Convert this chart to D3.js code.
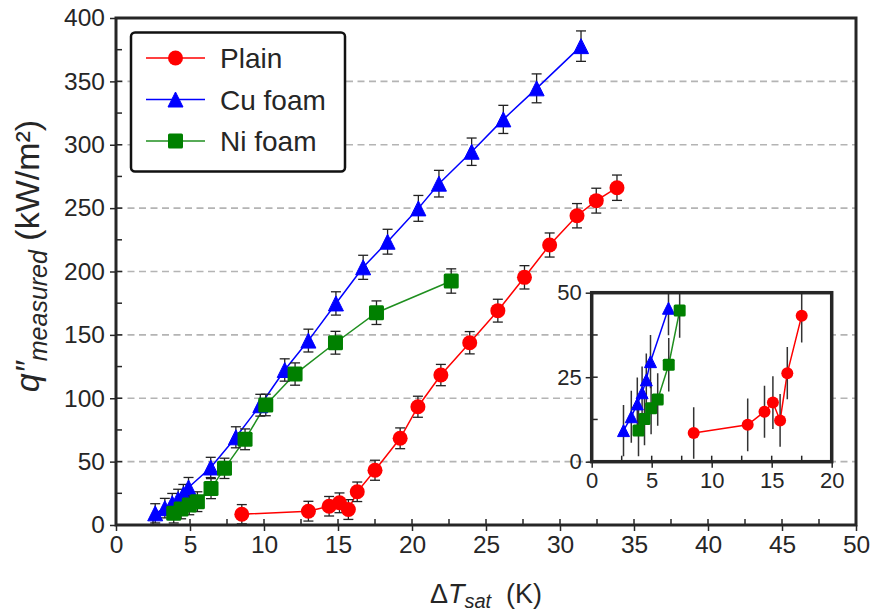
<!DOCTYPE html>
<html><head><meta charset="utf-8">
<script src="https://cdn.jsdelivr.net/npm/d3@7"></script>
<style>
body{margin:0;background:#fff;}
svg{display:block;font-family:"Liberation Sans",Arial,sans-serif;}
</style></head>
<body><svg id="chart" width="878" height="612"></svg>
<script>
// ---------- data ----------
const seriesNames = ["Plain", "Cu foam", "Ni foam"];
const plainX = [8.5, 13.0, 14.4, 15.1, 15.7, 16.3, 17.5, 19.2, 20.4, 21.95, 23.9, 25.8, 27.6, 29.3, 31.15, 32.45, 33.85];
const plainY = [8.5, 10.9, 14.8, 17.5, 12.2, 26.2, 43.2, 68.4, 93.3, 118.3, 143.8, 169.1, 195.4, 220.9, 244.0, 255.9, 266.1];
const plainErr = [7.6, 7.8, 7.7, 7.8, 7.8, 7.7, 7.9, 8.2, 8.3, 8.4, 8.8, 9.0, 9.2, 9.5, 9.6, 9.8, 10.0];
const cuX = [2.65, 3.3, 3.8, 4.2, 4.55, 4.9, 6.4, 8.1, 9.75, 11.4, 13.0, 14.86, 16.7, 18.35, 20.43, 21.82, 24.03, 26.17, 28.42, 31.42];
const cuY = [9.2, 13.3, 17.1, 20.4, 24.2, 29.6, 45.4, 69.2, 94.5, 122.3, 145.5, 174.8, 203.3, 223.5, 249.8, 269.3, 294.5, 320.0, 344.5, 377.8];
const cuErr = [7.6, 7.7, 7.8, 7.8, 7.8, 7.9, 8.0, 8.3, 8.6, 8.8, 9.0, 9.2, 9.5, 9.8, 10.2, 10.5, 10.8, 11.1, 11.4, 12.0];
const niX = [3.9, 4.4, 4.95, 5.5, 6.42, 7.33, 8.72, 10.12, 12.1, 14.83, 17.6, 22.65];
const niY = [9.2, 12.6, 15.8, 18.4, 28.7, 44.7, 67.6, 94.7, 119.1, 143.8, 167.5, 192.5];
const niErr = [7.6, 7.7, 7.7, 7.8, 7.9, 8.0, 8.2, 8.5, 8.8, 9.0, 9.3, 9.6];
const xTicks = [0, 5, 10, 15, 20, 25, 30, 35, 40, 45, 50];
const yTicks = [0, 50, 100, 150, 200, 250, 300, 350, 400];
const insetXTicks = [0, 5, 10, 15, 20];
const insetYTicks = [0, 25, 50];

const colors = ["#ff0000", "#0000ff", "#008000"];
const lineColors = ["#ff0000", "#0000ff", "#1f8f1f"];
const shapes = ["circle", "triangle", "square"];

const series = [
  {name: seriesNames[0], x: plainX, y: plainY, e: plainErr},
  {name: seriesNames[1], x: cuX, y: cuY, e: cuErr},
  {name: seriesNames[2], x: niX, y: niY, e: niErr}
].map((s, i) => ({...s, color: colors[i], lc: lineColors[i], shape: shapes[i],
  pts: s.x.map((v, j) => ({x: v, y: s.y[j], e: s.e[j]}))}));

const svg = d3.select("#chart");
const frameColor = "#262626";

function marker(g, shape, cx, cy, size, color) {
  if (shape === "circle") {
    g.append("circle").attr("cx", cx).attr("cy", cy).attr("r", size / 2).attr("fill", color);
  } else if (shape === "triangle") {
    const h = size, w = size;
    g.append("path").attr("d", `M${cx},${cy - h/2}L${cx + w/2},${cy + h/2}L${cx - w/2},${cy + h/2}Z`)
      .attr("fill", color).attr("stroke", color).attr("stroke-width", 1).attr("stroke-linejoin", "round");
  } else {
    g.append("rect").attr("x", cx - size/2).attr("y", cy - size/2).attr("width", size).attr("height", size)
      .attr("rx", 1.5).attr("fill", color);
  }
}

// ---------- main chart ----------
const M = {l: 116, r: 856, t: 18, b: 525};
const x = d3.scaleLinear().domain([0, 50]).range([M.l, M.r]);
const y = d3.scaleLinear().domain([0, 400]).range([M.b, M.t]);

// gridlines
svg.append("g").selectAll("line").data(yTicks.filter(v => v > 0 && v < 400)).join("line")
  .attr("x1", M.l).attr("x2", M.r).attr("y1", d => y(d)).attr("y2", d => y(d))
  .attr("stroke", "#b4b4b4").attr("stroke-width", 1.6).attr("stroke-dasharray", "7,4.5");

// axes
const xAxis = d3.axisBottom(x).tickValues(xTicks).tickSizeInner(6).tickSizeOuter(0).tickPadding(5);
const gx = svg.append("g").attr("transform", `translate(0,${M.b})`).call(xAxis);
const yAxis = d3.axisLeft(y).tickValues(yTicks).tickSizeInner(6).tickSizeOuter(0).tickPadding(5);
const gy = svg.append("g").attr("transform", `translate(${M.l},0)`).call(yAxis);
[gx, gy].forEach(g => {
  g.select(".domain").remove();
  g.selectAll(".tick line").attr("stroke", frameColor).attr("stroke-width", 1.5);
  g.selectAll(".tick text").attr("fill", "#262626").attr("font-size", 24.5).attr("font-family", "Liberation Sans, Arial, sans-serif");
});
// inward parts of ticks
const minorX = d3.range(0, 50.01, 2.5), minorY = d3.range(0, 400.01, 25);
svg.append("g").selectAll("line").data(minorX).join("line")
  .attr("x1", d => x(d)).attr("x2", d => x(d)).attr("y1", M.b).attr("y2", M.b - 6)
  .attr("stroke", frameColor).attr("stroke-width", 1.5);
svg.append("g").selectAll("line").data(minorY).join("line")
  .attr("y1", d => y(d)).attr("y2", d => y(d)).attr("x1", M.l).attr("x2", M.l + 6)
  .attr("stroke", frameColor).attr("stroke-width", 1.5);

// series
const lineGen = d3.line().x(d => x(d.x)).y(d => y(d.y));
const gData = svg.append("g");
series.forEach(s => {
  gData.append("path").datum(s.pts).attr("d", lineGen).attr("fill", "none")
    .attr("stroke", s.lc).attr("stroke-width", 1.5);
});
series.forEach(s => {
  const eg = gData.append("g").attr("stroke", "#222").attr("stroke-width", 1.3);
  s.pts.forEach(p => {
    eg.append("line").attr("x1", x(p.x)).attr("x2", x(p.x)).attr("y1", y(p.y - p.e)).attr("y2", y(p.y + p.e));
    [p.y - p.e, p.y + p.e].forEach(v => eg.append("line").attr("x1", x(p.x) - 5).attr("x2", x(p.x) + 5)
      .attr("y1", y(v)).attr("y2", y(v)));
  });
});
series.forEach(s => {
  const mg = gData.append("g");
  s.pts.forEach(p => marker(mg, s.shape, x(p.x), y(p.y), 15, s.color));
});

// frame
svg.append("rect").attr("x", M.l).attr("y", M.t).attr("width", M.r - M.l).attr("height", M.b - M.t)
  .attr("fill", "none").attr("stroke", frameColor).attr("stroke-width", 3);

// axis titles
const xt = svg.append("text").attr("x", 486).attr("y", 603).attr("text-anchor", "middle")
  .attr("font-size", 27).attr("fill", "#262626");
xt.append("tspan").text("Δ");
xt.append("tspan").attr("font-style", "italic").text("T");
xt.append("tspan").attr("font-style", "italic").attr("font-size", 20).attr("dy", 5).text("sat");
xt.append("tspan").attr("dy", -5).text("\u00a0 (K)");

const yt = svg.append("text").attr("transform", "translate(39,256) rotate(-90)").attr("text-anchor", "middle")
  .attr("font-size", 34).attr("fill", "#262626");
yt.append("tspan").attr("font-style", "italic").text("q\u2033");
yt.append("tspan").attr("font-style", "italic").attr("font-size", 25).attr("dy", 8).text("measured");
yt.append("tspan").attr("dy", -8).text(" (kW/m²)");

// legend
const L = svg.append("g");
L.append("rect").attr("x", 131).attr("y", 32.5).attr("width", 214).attr("height", 139).attr("rx", 4)
  .attr("fill", "#fff").attr("stroke", "#111").attr("stroke-width", 2.5);
series.forEach((s, i) => {
  const cy = 58 + i * 41.5;
  L.append("line").attr("x1", 146).attr("x2", 205).attr("y1", cy).attr("y2", cy)
    .attr("stroke", s.lc).attr("stroke-width", 1.3);
  marker(L, s.shape, 175.5, cy, 15, s.color);
  L.append("text").attr("x", 220).attr("y", cy + 10).attr("font-size", 28).attr("fill", "#262626").text(s.name);
});

// ---------- inset ----------
const I = {l: 591.7, r: 831.7, t: 292.7, b: 461.7};
const xi = d3.scaleLinear().domain([0, 20]).range([I.l, I.r]);
const yi = d3.scaleLinear().domain([0, 50]).range([I.b, I.t]);
svg.append("rect").attr("x", I.l).attr("y", I.t).attr("width", I.r - I.l).attr("height", I.b - I.t).attr("fill", "#fff");
svg.append("defs").append("clipPath").attr("id", "insetClip").append("rect")
  .attr("x", I.l).attr("y", I.t).attr("width", I.r - I.l).attr("height", I.b - I.t);

const gxi = svg.append("g").attr("transform", `translate(0,${I.b})`)
  .call(d3.axisBottom(xi).tickValues(insetXTicks).tickSizeInner(6).tickSizeOuter(0).tickPadding(5));
const gyi = svg.append("g").attr("transform", `translate(${I.l},0)`)
  .call(d3.axisLeft(yi).tickValues(insetYTicks).tickSizeInner(6).tickSizeOuter(0).tickPadding(4));
[gxi, gyi].forEach(g => {
  g.select(".domain").remove();
  g.selectAll(".tick line").attr("stroke", frameColor).attr("stroke-width", 1.5);
  g.selectAll(".tick text").attr("fill", "#262626").attr("font-size", 22).attr("font-family", "Liberation Sans, Arial, sans-serif");
});
svg.append("g").selectAll("line").data(d3.range(0, 20.01, 2.5)).join("line")
  .attr("x1", d => xi(d)).attr("x2", d => xi(d)).attr("y1", I.b).attr("y2", I.b - 6)
  .attr("stroke", frameColor).attr("stroke-width", 1.5);
svg.append("g").selectAll("line").data(d3.range(0, 50.01, 12.5)).join("line")
  .attr("y1", d => yi(d)).attr("y2", d => yi(d)).attr("x1", I.l).attr("x2", I.l + 6)
  .attr("stroke", frameColor).attr("stroke-width", 1.5);

const gIn = svg.append("g").attr("clip-path", "url(#insetClip)");
const lineI = d3.line().x(d => xi(d.x)).y(d => yi(d.y));
series.forEach(s => {
  const pts = s.pts.filter(p => p.y < 60);
  gIn.append("path").datum(pts).attr("d", lineI).attr("fill", "none").attr("stroke", s.lc).attr("stroke-width", 1.5);
});
series.forEach(s => {
  const pts = s.pts.filter(p => p.y < 60);
  const eg = gIn.append("g").attr("stroke", "#333").attr("stroke-width", 1.5);
  pts.forEach(p => eg.append("line").attr("x1", xi(p.x)).attr("x2", xi(p.x)).attr("y1", yi(p.y - p.e)).attr("y2", yi(p.y + p.e)));
});
series.forEach(s => {
  const pts = s.pts.filter(p => p.y < 60);
  const mg = gIn.append("g");
  pts.forEach(p => marker(mg, s.shape, xi(p.x), yi(p.y), 12, s.color));
});
svg.append("rect").attr("x", I.l).attr("y", I.t).attr("width", I.r - I.l).attr("height", I.b - I.t)
  .attr("fill", "none").attr("stroke", frameColor).attr("stroke-width", 3.5);
</script></body></html>
